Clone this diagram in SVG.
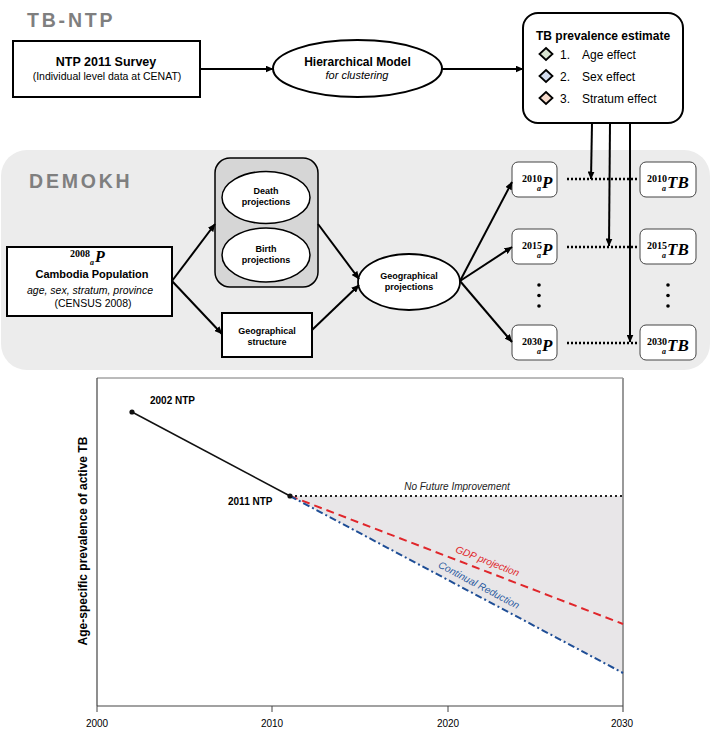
<svg xmlns="http://www.w3.org/2000/svg" width="712" height="733" viewBox="0 0 712 733">
<style>
  text { font-family: "Liberation Sans", Arial, sans-serif; fill: #000; }
  .title { font-size: 19.5px; font-weight: bold; fill: #7f7f7f; letter-spacing: 2.8px; }
  .b { font-weight: bold; }
  .i { font-style: italic; }
  .mid { text-anchor: middle; }
  .math { font-family: "Liberation Serif", "DejaVu Serif", serif; font-weight: bold; }
  .box { fill: #fff; stroke: #000; stroke-width: 2; }
  .sbox { fill: #fff; stroke: #444; stroke-width: 1; }
  .conn { stroke: #000; stroke-width: 2; fill: none; }
  .dot { stroke: #000; stroke-width: 2.5; stroke-dasharray: 2 2; fill: none; }
  .tick { font-size: 10px; text-anchor: middle; }
  .dia { stroke: #000; stroke-width: 1.8; }
</style>
<defs>
  <marker id="arr" markerWidth="8" markerHeight="7" refX="7.5" refY="3.5" orient="auto" markerUnits="userSpaceOnUse">
    <path d="M0,0 L8,3.5 L0,7 Z" fill="#000"/>
  </marker>
</defs>

<!-- DEMOKH panel background -->
<rect id="demokh-panel" x="1" y="150" width="709" height="220" rx="26" fill="#ececec"/>
<text class="title" x="27" y="27">TB-NTP</text>
<text class="title" x="29" y="188">DEMOKH</text>

<!-- Nodes -->
<g id="ntp-survey">
  <rect class="box" x="13" y="41" width="187" height="56"/>
  <text class="b mid" x="106" y="66" font-size="12.5">NTP 2011 Survey</text>
  <text class="mid" x="107" y="80" font-size="10.5">(Individual level data at CENAT)</text>
</g>
<g id="hier-model">
  <ellipse cx="357.5" cy="68.5" rx="84.5" ry="28.5" fill="#fff" stroke="#000" stroke-width="2"/>
  <text class="b mid" x="357.5" y="66" font-size="12">Hierarchical Model</text>
  <text class="i mid" x="357" y="79" font-size="11">for clustering</text>
</g>
<g id="tb-prev">
  <rect class="box" x="523" y="13" width="160" height="110" rx="15"/>
  <text class="b" x="536" y="40" font-size="12">TB prevalence estimate</text>
  <path class="dia" d="M546,48 L552.5,54 L546,60 L539.5,54 Z" fill="#d9e5d2"/>
  <path class="dia" d="M546,70 L552.5,76 L546,82 L539.5,76 Z" fill="#d3dcee"/>
  <path class="dia" d="M546,92 L552.5,98 L546,104 L539.5,98 Z" fill="#f5dacb"/>
  <text x="560" y="59" font-size="12">1.</text><text x="582" y="59" font-size="12">Age effect</text>
  <text x="560" y="81" font-size="12">2.</text><text x="582" y="81" font-size="12">Sex effect</text>
  <text x="560" y="103" font-size="12">3.</text><text x="582" y="103" font-size="12">Stratum effect</text>
</g>
<g id="cambodia-pop">
  <rect class="box" x="7" y="247" width="165" height="69"/>
  <text class="math"><tspan x="70" y="257" font-size="10">2008</tspan><tspan x="90" y="265" font-size="8" font-style="italic">a</tspan><tspan x="95" y="262" font-size="16" font-style="italic">P</tspan></text>
  <text class="b mid" x="92" y="278" font-size="11">Cambodia Population</text>
  <text class="i mid" x="90" y="294" font-size="10.5">age, sex, stratum, province</text>
  <text class="mid" x="93" y="307" font-size="10.5">(CENSUS 2008)</text>
</g>
<g id="vital-group">
  <rect x="215" y="158" width="103" height="129" rx="15" fill="#d6d6d6" stroke="#000" stroke-width="1.5"/>
  <g id="death-proj">
    <ellipse cx="266" cy="197.5" rx="44" ry="26" fill="#fff" stroke="#000" stroke-width="1.5"/>
    <text class="b mid" x="266" y="194" font-size="9">Death</text>
    <text class="b mid" x="266" y="205" font-size="9">projections</text>
  </g>
  <g id="birth-proj">
    <ellipse cx="266" cy="255" rx="44" ry="27" fill="#fff" stroke="#000" stroke-width="1.5"/>
    <text class="b mid" x="266" y="252" font-size="9">Birth</text>
    <text class="b mid" x="266" y="263" font-size="9">projections</text>
  </g>
</g>
<g id="geo-structure">
  <rect class="box" x="222" y="313" width="90" height="44" stroke-width="1.5"/>
  <text class="b mid" x="267" y="334" font-size="9">Geographical</text>
  <text class="b mid" x="267" y="345" font-size="9">structure</text>
</g>
<g id="geo-proj">
  <ellipse cx="409" cy="282" rx="51" ry="28" fill="#fff" stroke="#000" stroke-width="1.8"/>
  <text class="b mid" x="409" y="279" font-size="9">Geographical</text>
  <text class="b mid" x="409" y="290" font-size="9">projections</text>
</g>
<g id="p2010">
  <rect class="sbox" x="512" y="162" width="45" height="35" rx="6"/>
  <text class="math"><tspan x="522" y="182" font-size="10">2010</tspan><tspan x="537" y="191" font-size="8" font-style="italic">a</tspan><tspan x="542" y="188" font-size="17" font-style="italic">P</tspan></text>
</g>
<g id="p2015">
  <rect class="sbox" x="512" y="229" width="45" height="35" rx="6"/>
  <text class="math"><tspan x="522" y="249" font-size="10">2015</tspan><tspan x="537" y="258" font-size="8" font-style="italic">a</tspan><tspan x="542" y="255" font-size="17" font-style="italic">P</tspan></text>
</g>
<g id="p2030">
  <rect class="sbox" x="512" y="325" width="45" height="35" rx="6"/>
  <text class="math"><tspan x="522" y="345" font-size="10">2030</tspan><tspan x="537" y="354" font-size="8" font-style="italic">a</tspan><tspan x="542" y="351" font-size="17" font-style="italic">P</tspan></text>
</g>
<g id="tb2010">
  <rect class="sbox" x="640" y="162" width="56" height="35" rx="6"/>
  <text class="math"><tspan x="647" y="182" font-size="10">2010</tspan><tspan x="662" y="191" font-size="8" font-style="italic">a</tspan><tspan x="667" y="188" font-size="17" font-style="italic">TB</tspan></text>
</g>
<g id="tb2015">
  <rect class="sbox" x="640" y="229" width="56" height="35" rx="6"/>
  <text class="math"><tspan x="647" y="249" font-size="10">2015</tspan><tspan x="662" y="258" font-size="8" font-style="italic">a</tspan><tspan x="667" y="255" font-size="17" font-style="italic">TB</tspan></text>
</g>
<g id="tb2030">
  <rect class="sbox" x="640" y="325" width="56" height="35" rx="6"/>
  <text class="math"><tspan x="647" y="345" font-size="10">2030</tspan><tspan x="662" y="354" font-size="8" font-style="italic">a</tspan><tspan x="667" y="351" font-size="17" font-style="italic">TB</tspan></text>
</g>
<g id="ellipsis-dots" fill="#000">
  <circle cx="539" cy="285" r="1.8"/><circle cx="539" cy="295.5" r="1.8"/><circle cx="539" cy="306" r="1.8"/>
  <circle cx="668" cy="285" r="1.8"/><circle cx="668" cy="295.5" r="1.8"/><circle cx="668" cy="306" r="1.8"/>
</g>

<!-- Connectors -->
<g id="connectors">
  <line class="conn" x1="200" y1="69" x2="273" y2="69" marker-end="url(#arr)"/>
  <line class="conn" x1="442" y1="69" x2="523" y2="69" marker-end="url(#arr)"/>
  <line class="conn" x1="172" y1="281" x2="215" y2="224" marker-end="url(#arr)"/>
  <line class="conn" x1="172" y1="281" x2="222" y2="334" marker-end="url(#arr)"/>
  <line class="conn" x1="318" y1="224" x2="359" y2="279" marker-end="url(#arr)"/>
  <line class="conn" x1="312" y1="330" x2="359" y2="285" marker-end="url(#arr)"/>
  <line class="conn" x1="460" y1="281" x2="512" y2="182" marker-end="url(#arr)"/>
  <line class="conn" x1="460" y1="281" x2="512" y2="247" marker-end="url(#arr)"/>
  <line class="conn" x1="460" y1="281" x2="512" y2="342" marker-end="url(#arr)"/>
  <line class="dot" x1="567" y1="179" x2="638" y2="179"/>
  <line class="dot" x1="567" y1="247" x2="638" y2="247"/>
  <line class="dot" x1="567" y1="343" x2="638" y2="343"/>
  <line class="conn" x1="592" y1="123" x2="591" y2="179" marker-end="url(#arr)"/>
  <line class="conn" x1="610" y1="123" x2="609" y2="246" marker-end="url(#arr)"/>
  <line class="conn" x1="630" y1="123" x2="630" y2="342" marker-end="url(#arr)"/>
</g>

<!-- Chart -->
<g id="chart">
  <polygon points="290,496 623,496 623,673" fill="#e8e6e8"/>
  <line x1="97" y1="378" x2="623" y2="378" stroke="#777" stroke-width="1"/>
  <line x1="97" y1="378" x2="97" y2="706" stroke="#444" stroke-width="1.2"/>
  <line x1="623" y1="378" x2="623" y2="712" stroke="#999" stroke-width="2"/>
  <line x1="97" y1="706" x2="623" y2="706" stroke="#444" stroke-width="1.2"/>
  <g stroke="#444" stroke-width="1">
    <line x1="97" y1="706" x2="97" y2="712"/>
    <line x1="272" y1="706" x2="272" y2="712"/>
    <line x1="448" y1="706" x2="448" y2="712"/>
  </g>
  <text class="tick" x="97" y="727">2000</text>
  <text class="tick" x="272" y="727">2010</text>
  <text class="tick" x="448" y="727">2020</text>
  <text class="tick" x="622" y="727">2030</text>
  <text class="b mid" font-size="12" transform="translate(87,541) rotate(-90)">Age-specific prevalence of active TB</text>
  <line x1="132" y1="412" x2="290" y2="496" stroke="#111" stroke-width="1.5"/>
  <line x1="290" y1="496" x2="623" y2="496" stroke="#222" stroke-width="2" stroke-dasharray="2 3"/>
  <line x1="290" y1="496" x2="623" y2="624" stroke="#e0262b" stroke-width="2" stroke-dasharray="8 5"/>
  <line x1="290" y1="496" x2="623" y2="673" stroke="#1f4e96" stroke-width="2" stroke-dasharray="7 3 2 3"/>
  <circle cx="132" cy="412" r="2.6" fill="#111"/>
  <circle cx="290" cy="496" r="2.6" fill="#111"/>
  <text class="b" x="150" y="404" font-size="10">2002 NTP</text>
  <text class="b" x="228" y="505" font-size="10">2011 NTP</text>
  <text class="i mid" x="457" y="490" font-size="10" style="fill:#222">No Future Improvement</text>
  <text class="i mid" font-size="10" style="fill:#e0262b" transform="translate(487.5,561) rotate(21.5)" y="3.5">GDP projection</text>
  <text class="i mid" font-size="10" style="fill:#2a5aa0" transform="translate(479,585) rotate(28)" y="3.5">Continual Reduction</text>
</g>
</svg>
